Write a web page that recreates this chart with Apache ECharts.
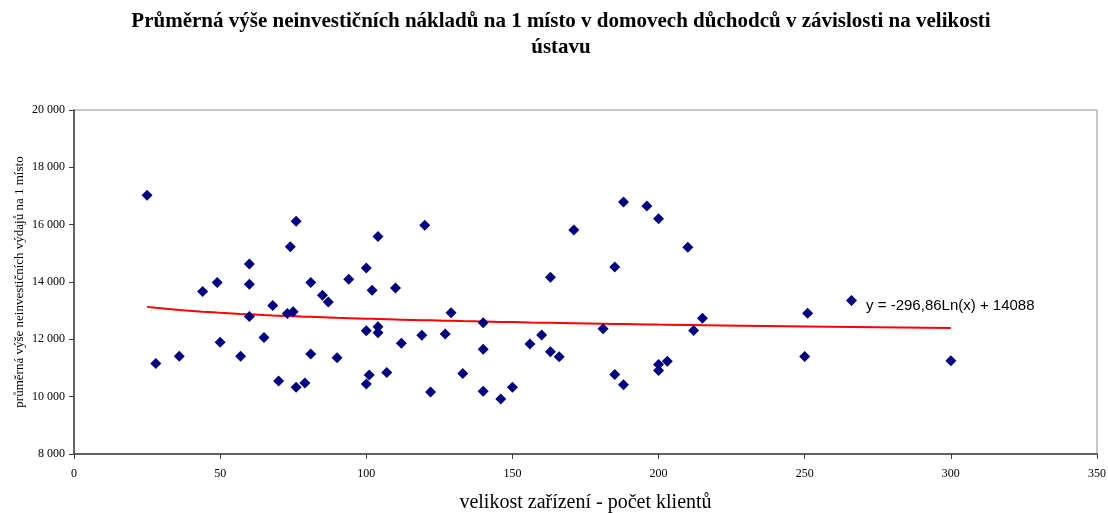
<!DOCTYPE html>
<html>
<head>
<meta charset="utf-8">
<script src="https://cdn.jsdelivr.net/npm/echarts@6/dist/echarts.min.js"></script>
<style>
  html, body { margin: 0; padding: 0; background: #fff; }
  #chart { width: 1108px; height: 513px; }
</style>
</head>
<body>
<div id="chart"></div>
<script>
// velikost zařízení (počet klientů)
const sizes = [25, 28, 36, 44, 49, 50, 57, 60, 60, 60, 65, 68, 70, 73, 75, 74, 76, 76, 79, 81, 81,
  85, 87, 90, 94, 100, 100, 100, 101, 102, 104, 104, 104, 107, 110, 112, 119, 120, 122, 127, 129,
  133, 140, 140, 140, 146, 150, 156, 160, 163, 163, 166, 171, 181, 185, 185, 188, 188, 196, 200,
  200, 200, 203, 210, 212, 215, 251, 250, 266, 300];
// průměrné neinvestiční náklady na 1 místo
const costs = [17030, 11160, 11410, 13670, 13985, 11900, 11410, 14625, 13925, 12800, 12060, 13180,
  10550, 12900, 12960, 15230, 16120, 10330, 10480, 13985, 11490,
  13540, 13300, 11360, 14100, 14490, 12300, 10440, 10760, 13715, 15590, 12440, 12230, 10840, 13790,
  11860, 12140, 15980, 10160, 12190, 12925, 10810, 12575, 11650, 10185, 9920, 10325, 11840,
  12155, 14170, 11570, 11390, 15815, 12365, 14520, 10770, 16795, 10420, 16650, 16210, 11120,
  10910, 11235, 15210, 12305, 12735, 12910, 11400, 13355, 11255];
// logaritmický trend z grafu: y = a*ln(x) + b
const trendA = -296.86;
const trendB = 14088;
const trendLabel = 'y = -296,86Ln(x) + 14088';
const xTicks = [0, 350, 50];
const yTicks = [8000, 20000, 2000];

const points = sizes.map((s, i) => [s, costs[i]]);
const trendX = Array.from(new Set(sizes)).sort((a, b) => a - b);
const trend = trendX.map(x => [x, trendA * Math.log(x) + trendB]);

const serif = '"Liberation Serif", "Times New Roman", serif';
const fmt = v => String(v).replace(/\B(?=(\d{3})+(?!\d))/g, ' ');

const chart = echarts.init(document.getElementById('chart'));
chart.setOption({
  animation: false,
  title: {
    text: 'Průměrná výše neinvestičních nákladů na 1 místo v domovech důchodců v závislosti na velikosti\nústavu',
    left: 556, top: 4, textAlign: 'center',
    textStyle: { fontFamily: serif, fontSize: 21, fontWeight: 'bold', color: '#000', lineHeight: 26 }
  },
  grid: {
    left: 74, right: 11, top: 110, bottom: 59, outerBoundsMode: 'none',
    show: true, borderColor: '#909090', borderWidth: 1
  },
  xAxis: {
    type: 'value', min: xTicks[0], max: xTicks[1], interval: xTicks[2],
    name: 'velikost zařízení - počet klientů', nameLocation: 'middle', nameGap: 39,
    nameTextStyle: { fontFamily: serif, fontSize: 20, color: '#000' },
    axisLine: { lineStyle: { color: '#404040', width: 1.5 } },
    axisTick: { inside: false, length: 5, lineStyle: { color: '#404040' } },
    axisLabel: { fontFamily: serif, fontSize: 12, color: '#000', margin: 14 },
    splitLine: { show: false }
  },
  yAxis: {
    type: 'value', min: yTicks[0], max: yTicks[1], interval: yTicks[2],
    name: 'průměrná výše neinvestičních výdajů na 1 místo', nameLocation: 'middle', nameGap: 48,
    nameMoveOverlap: false,
    nameTextStyle: { fontFamily: serif, fontSize: 13, color: '#000' },
    axisLine: { show: true, lineStyle: { color: '#404040', width: 1.5 } },
    axisTick: { show: true, length: 5, lineStyle: { color: '#404040' } },
    axisLabel: { fontFamily: serif, fontSize: 12, color: '#000', margin: 9, formatter: fmt },
    splitLine: { show: false }
  },
  series: [
    {
      type: 'scatter', data: points, symbol: 'diamond', symbolSize: 11,
      itemStyle: { color: '#000080', opacity: 1 }, z: 3
    },
    {
      type: 'line', data: trend, showSymbol: false, smooth: false,
      lineStyle: { color: '#ff0000', width: 2 }, z: 2,
      markPoint: {
        symbol: 'circle', symbolSize: 0,
        data: [{ coord: [271, 13180] }],
        label: {
          show: true, position: 'right', distance: 0, formatter: trendLabel,
          fontFamily: '"Liberation Sans", Arial, sans-serif', fontSize: 15, color: '#000'
        }
      }
    }
  ]
});
</script>
</body>
</html>
